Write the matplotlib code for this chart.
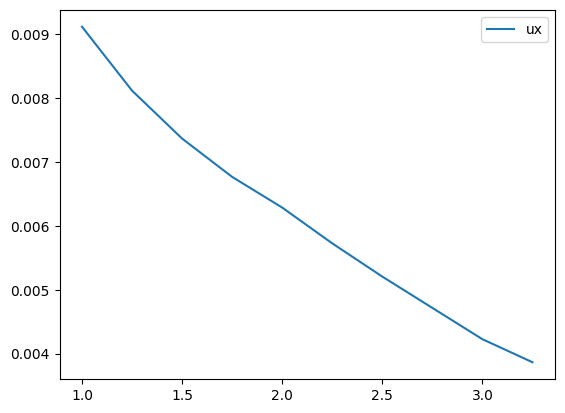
import matplotlib
matplotlib.use("Agg")
import matplotlib.pyplot as plt

x = [1.0, 1.25, 1.5, 1.75, 2.0, 2.25, 2.5, 2.75, 3.0, 3.25]
ux = [0.00912, 0.00812, 0.00737, 0.00677, 0.00629, 0.00573, 0.00521, 0.00472, 0.00423, 0.00387]

fig = plt.figure(figsize=(5.65, 4.13), dpi=100)
ax = fig.add_axes([59.5 / 565, (413 - 379) / 413, (555 - 59.5) / 565, (379 - 10) / 413])
ax.plot(x, ux, label="ux")
ax.legend(loc="upper right")
fig.savefig("out.png", dpi=100)
